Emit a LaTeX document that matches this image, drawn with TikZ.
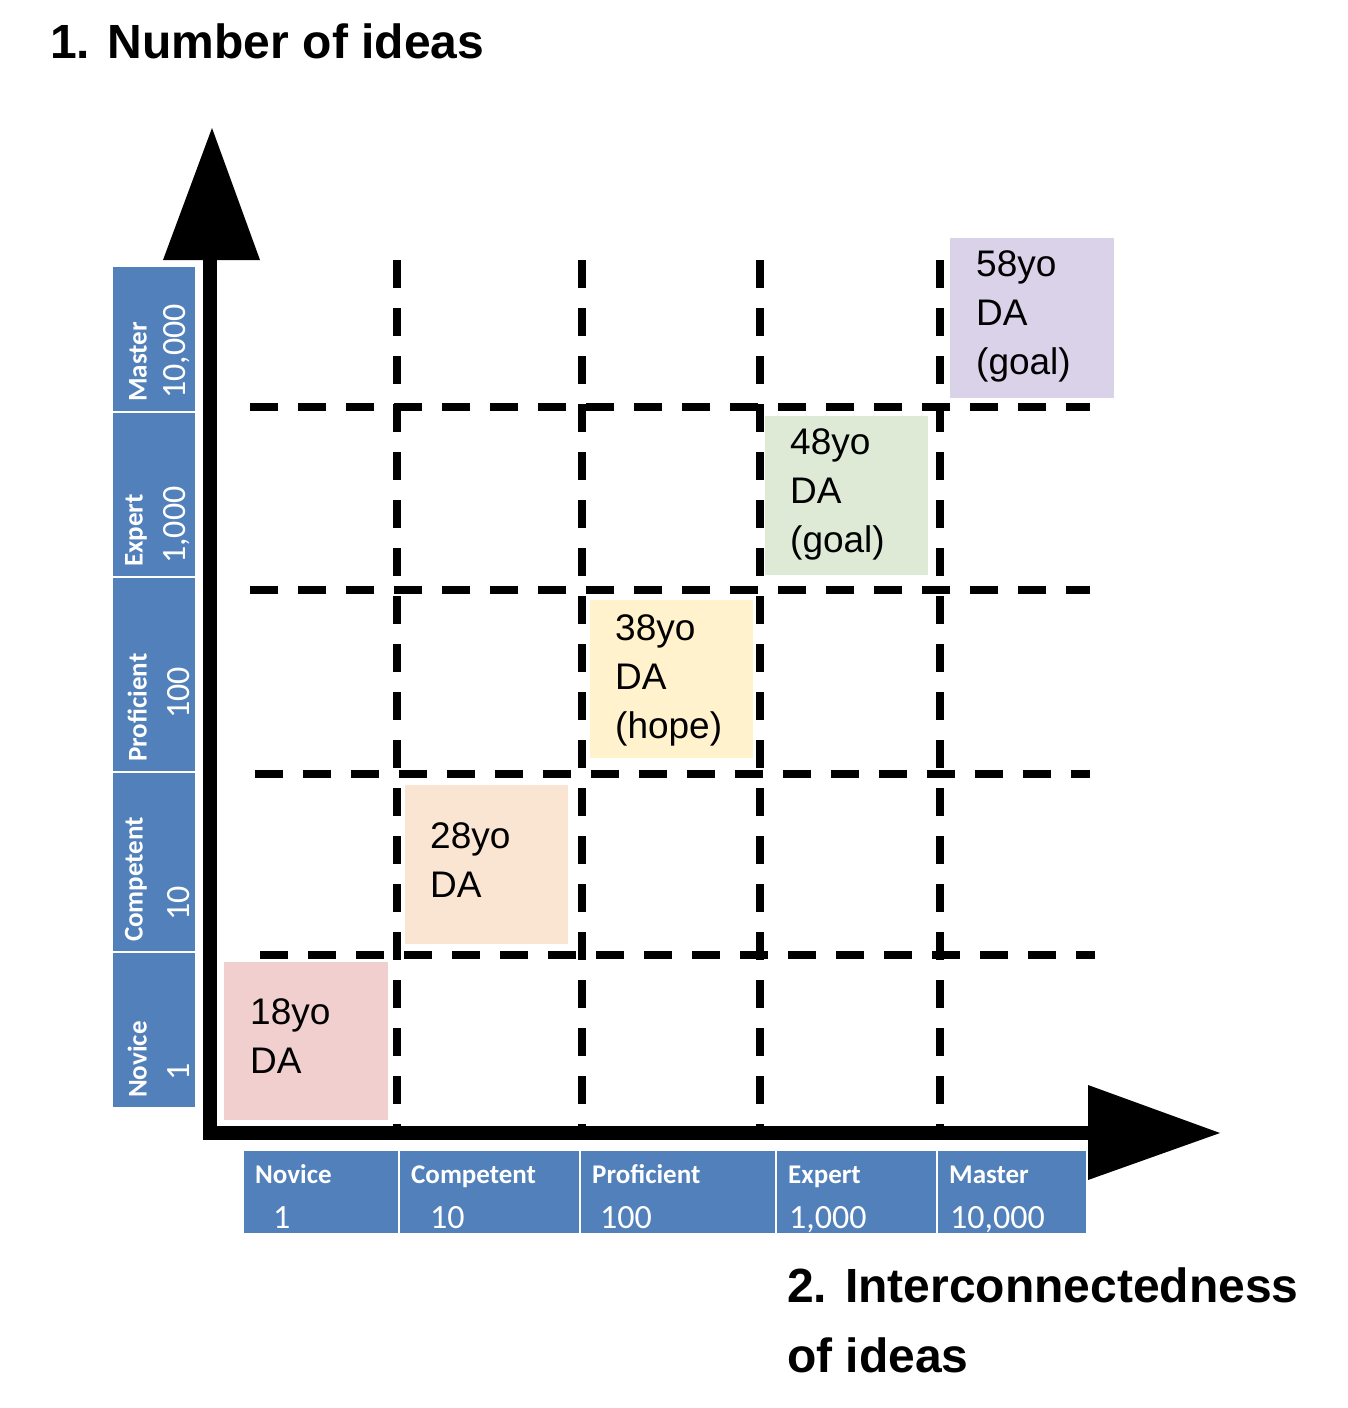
\documentclass[tikz,border=0pt]{standalone}
\usepackage{fontspec}
\setmainfont{Liberation Sans}
\newfontfamily\carl{Carlito}
\definecolor{lblue}{HTML}{5180BB}
\definecolor{cpink}{HTML}{F1CFCF}
\definecolor{cpeach}{HTML}{FAE5D3}
\definecolor{cyel}{HTML}{FFF2CC}
\definecolor{cgreen}{HTML}{DEE9D6}
\definecolor{cpurp}{HTML}{D9D2E9}
\tikzset{
 dgrid/.style={line width=8pt,dash pattern=on 28pt off 20pt},
 agetxt/.style={anchor=north west,align=left,font=\fontsize{37}{49}\selectfont,inner sep=0pt},
 lbl/.style={fill=lblue,draw=white,line width=1.5pt},
 ltxt/.style={text=white,inner sep=0pt,align=left},
 big/.style={font=\bfseries\fontsize{48}{70}\selectfont,inner sep=0pt,anchor=north west,align=left}
}
\begin{document}
\begin{tikzpicture}[x=1pt,y=-1pt]
\useasboundingbox (0,0) rectangle (1348,1408);
\node[big] (t1) at (50,24) {1. Number of ideas};
\node[big] (t2) at (787,1268) {2. Interconnectedness\\of ideas};
% coloured boxes
\fill[cpink] (224,962) rectangle (388,1120);
\fill[cpeach] (405,785) rectangle (568,944);
\fill[cyel] (590,600) rectangle (753,758);
\fill[cgreen] (765,416) rectangle (928,575);
\fill[cpurp] (950,238) rectangle (1114,398);
\node[agetxt] (a1) at (250,998) {18yo\\DA};
\node[agetxt] (a2) at (430,822) {28yo\\DA};
\node[agetxt] (a3) at (615,614) {38yo\\DA\\(hope)};
\node[agetxt] (a4) at (790,428) {48yo\\DA\\(goal)};
\node[agetxt] (a5) at (976,250) {58yo\\DA\\(goal)};
% grid
\foreach \x in {397,582,760,940} \draw[dgrid] (\x,260) -- (\x,1140);
\draw[dgrid] (250,407) -- (1090,407);
\draw[dgrid] (250,590) -- (1090,590);
\draw[dgrid] (255,774) -- (1090,774);
\draw[dgrid] (260,955) -- (1095,955);
% axes
\coordinate (yt) at (210,258);
\coordinate (xt) at (1090,1133);
\draw[line width=14pt] (210,1140) -- (yt);
\draw[line width=14pt] (203,1133) -- (xt);
\fill (212,128) -- (163,260) -- (260,260) -- cycle;
\fill (1220,1133) -- (1088,1085) -- (1088,1180) -- cycle;
% y labels
\foreach \a/\b/\n/\v/\i in {266/412/Master/{10,000}/0, 412/577/Expert/{1,000}/0, 577/772/Proficient/100/40, 772/952/Competent/10/18, 952/1108/Novice/1/14}{
 \draw[lbl] (112,\a) rectangle (196,\b);
 \node[ltxt,rotate=90,anchor=south west,font=\carl\bfseries\fontsize{27}{27}\selectfont] at (147,\b-10) {\n};
 \node[ltxt,rotate=90,anchor=south west,font=\carl\fontsize{34}{34}\selectfont] at (190,\b-13-\i) {\v};
}
% x labels
\foreach \a/\b/\n/\v/\i in {243/399/Novice/1/17, 399/580/Competent/10/18, 580/776/Proficient/100/7, 776/937/Expert/{1,000}/0, 937/1087/Master/{10,000}/0}{
 \draw[lbl] (\a,1150) rectangle (\b,1234);
 \node[ltxt,anchor=base west,font=\carl\bfseries\fontsize{27}{27}\selectfont] at (\a+12,1183) {\n};
 \node[ltxt,anchor=base west,font=\carl\fontsize{34}{34}\selectfont] at (\a+13+\i,1228) {\v};
}
\end{tikzpicture}
\end{document}
